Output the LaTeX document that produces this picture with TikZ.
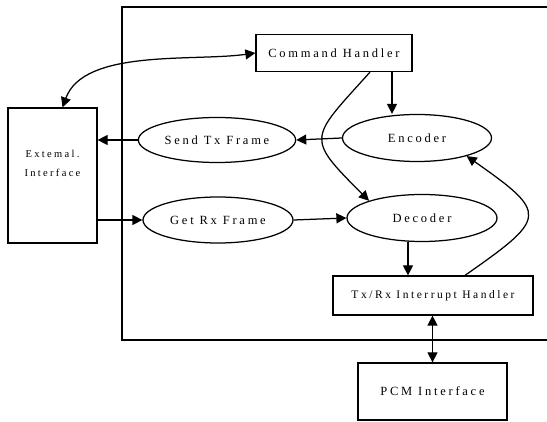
\documentclass[tikz,border=0pt]{standalone}
\usepackage{fontspec}
\setmainfont{Liberation Serif}[LetterSpace=22]
\usetikzlibrary{shapes,arrows.meta,positioning,calc}

\begin{document}
\begin{tikzpicture}[x=1pt, y=-1pt,
  box/.style={rectangle, draw, line width=1.25pt, align=center, font=\fontsize{12.5}{15}\selectfont},
  proc/.style={ellipse, draw, line width=1.25pt, align=center, font=\fontsize{12.5}{15}\selectfont},
  arr/.style={-{Triangle[length=10pt, width=10pt]}, line width=1.25pt},
  biarr/.style={{Triangle[length=10pt, width=10pt]}-{Triangle[length=10pt, width=10pt]}, line width=1.25pt}
]
  \useasboundingbox (0,0) rectangle (547,422);

  % frame of the unit
  \draw[line width=1.25pt] (550,7) -- (122,7) -- (122,340) -- (550,340);

  \node[box, minimum width=156pt, minimum height=37pt] (cmd) at (334,53) {Command Handler};
  \node[box, minimum width=89pt, minimum height=135pt, font=\fontsize{10.5}{19}\selectfont] (ext) at (52.5,175.5) {Extemal.\\Interface\\[6pt]};
  \node[proc, minimum width=147pt, minimum height=45pt] (sendtx) at (217,140) {Send Tx Frame};
  \node[proc, minimum width=149pt, minimum height=47pt] (enc) at (417,138) {Encoder};
  \node[proc, minimum width=150pt, minimum height=46pt] (getrx) at (218,220) {Get Rx Frame};
  \node[proc, minimum width=150pt, minimum height=47pt] (dec) at (422,218) {Decoder};
  \node[box, minimum width=200pt, minimum height=39pt, font=\fontsize{11.5}{14}\selectfont] (txrx) at (433,295.5) {Tx/Rx Interrupt Handler};
  \node[box, minimum width=149pt, minimum height=57pt] (pcm) at (432.5,391.5) {PCM Interface};

  \coordinate (cmdout) at ([xshift=58pt]cmd.south);
  \coordinate (txin) at ([xshift=-25pt]txrx.north);

  \draw[biarr] (cmd.west) to[out=188, in=70, looseness=0.8] ([xshift=10pt]ext.north);
  \draw[arr] (cmdout) -- (cmdout |- enc.north);
  \draw[arr] ([xshift=36pt]cmd.south) to[out=228, in=135, looseness=1.8] (dec.162);
  \draw[arr] (enc.west) -- (sendtx.east);
  \draw[arr] (sendtx.west) -- (sendtx.west -| ext.east);
  \draw[arr] (getrx.west -| ext.east) -- (getrx.west);
  \draw[arr] (getrx.east) -- (dec.west);
  \draw[arr] (txin |- dec.south) -- (txin);
  \draw[arr] ([xshift=32pt]txrx.north) to[out=35, in=-35, looseness=2.15] (enc.-20);
  \draw[biarr] (txrx.south -| pcm.north) -- (pcm.north);
\end{tikzpicture}
\end{document}
